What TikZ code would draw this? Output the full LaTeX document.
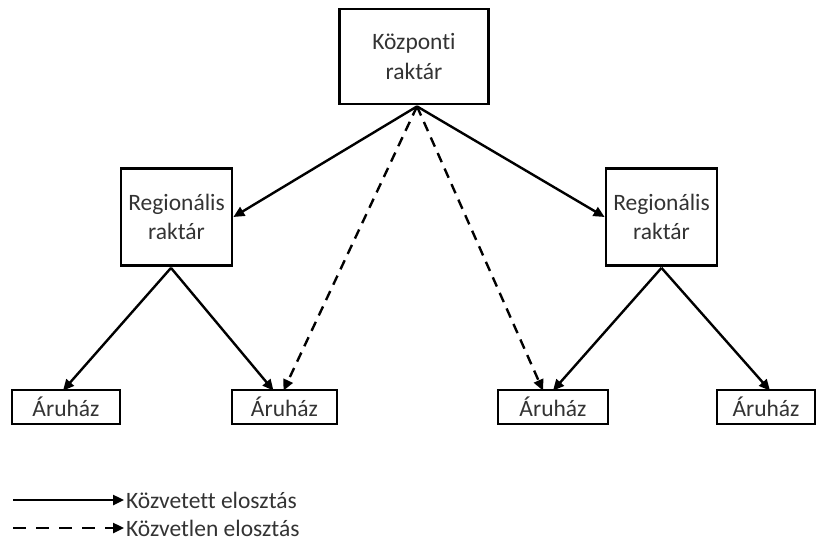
\documentclass[tikz,border=0pt]{standalone}
\usepackage{fontspec}
\setmainfont{Carlito}[Ligatures=NoCommon]
\usetikzlibrary{arrows.meta}
\begin{document}
\begin{tikzpicture}[x=1pt,y=-1pt,
  box/.style={draw,line width=2.8pt,inner sep=0pt,align=center,font=\fontsize{23.5}{29.5}\selectfont,text=black!80},
  conn/.style={line width=2.4pt,-{Triangle[length=11pt,width=10pt]}},
  dconn/.style={conn,dash pattern=on 10pt off 7pt},
  lbl/.style={anchor=west,inner sep=0pt,font=\fontsize{23.5}{29.5}\selectfont,text=black!80}]
\useasboundingbox (0,0) rectangle (818,545);
\node[box,minimum width=149pt,minimum height=95pt] (C) at (414,56.5) {Központi\\raktár};
\node[box,minimum width=111pt,minimum height=97pt] (RL) at (176.5,217) {Regionális\\raktár};
\node[box,minimum width=111pt,minimum height=97pt] (RR) at (661.5,217) {Regionális\\raktár};
\node[box,minimum width=108pt,minimum height=34pt] (A1) at (66,407) {Áruház};
\node[box,minimum width=105pt,minimum height=34pt] (A2) at (284.5,407) {Áruház};
\node[box,minimum width=110pt,minimum height=34pt] (A3) at (553,407) {Áruház};
\node[box,minimum width=98pt,minimum height=34pt] (A4) at (766,407) {Áruház};
\coordinate (cs) at ([xshift=3pt,yshift=-1pt]C.south);
\coordinate (ls) at ([xshift=-5.5pt,yshift=-1pt]RL.south);
\coordinate (rs) at ([yshift=-1pt]RR.south);
\draw[conn] (cs) -- (RL.east);
\draw[conn] (cs) -- (RR.west);
\draw[dconn] (cs) -- ([xshift=-1pt,yshift=-2pt]A2.north);
\draw[dconn] (cs) -- ([xshift=-10pt,yshift=-2pt]A3.north);
\draw[conn] (ls) -- ([xshift=-3pt,yshift=-2pt]A1.north);
\draw[conn] (ls) -- ([xshift=-11pt,yshift=-2pt]A2.north);
\draw[conn] (rs) -- ([xshift=0pt,yshift=-2pt]A3.north);
\draw[conn] (rs) -- ([xshift=4pt,yshift=-2pt]A4.north);
\coordinate (l1a) at (13,500);
\node[lbl] (L1) at (126,500) {Közvetett elosztás};
\coordinate (l2a) at (13,528);
\node[lbl] (L2) at (126,528) {Közvetlen elosztás};
\draw[conn] (l1a) -- ([xshift=-2pt]L1.west);
\draw[dconn,dash pattern=on 13pt off 10pt] (l2a) -- ([xshift=-2pt]L2.west);
\end{tikzpicture}
\end{document}
